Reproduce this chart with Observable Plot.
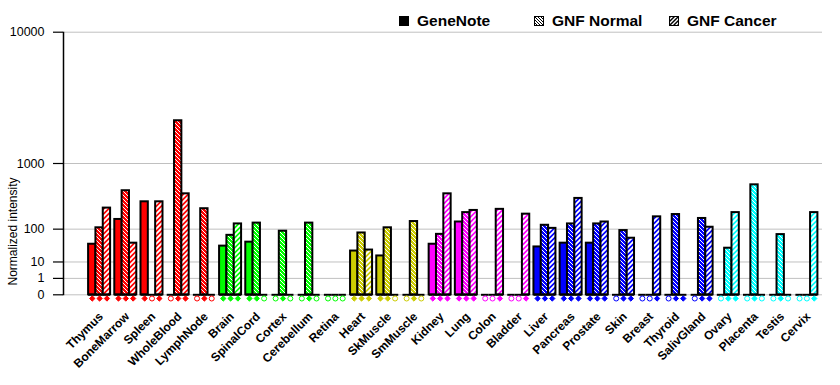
<!DOCTYPE html>
<html>
<head>
<meta charset="utf-8">
<script src="https://cdn.jsdelivr.net/npm/d3@7"></script>
<script src="https://cdn.jsdelivr.net/npm/@observablehq/plot@0.6"></script>
<style>
  body { margin: 0; background: #fff; font-family: Arial, "Liberation Sans", sans-serif; }
  #wrap { position: relative; width: 840px; height: 385px; }
  #wrap svg.chart { position: absolute; left: 0; top: 0; }
  .leg { position: absolute; top: 11px; height: 20px; display: flex; align-items: center;
         font-weight: bold; font-size: 15.5px; color: #000; white-space: nowrap; }
  .leg svg { margin-right: 8px; }
</style>
</head>
<body>
<div id="wrap"></div>
<script>
// ---- data ----
const tissues = ["Thymus","BoneMarrow","Spleen","WholeBlood","LymphNode",
  "Brain","SpinalCord","Cortex","Cerebellum","Retina",
  "Heart","SkMuscle","SmMuscle",
  "Kidney","Lung","Colon","Bladder",
  "Liver","Pancreas","Prostate","Skin","Breast","Thyroid","SalivGland",
  "Ovary","Placenta","Testis","Cervix"];
const tissueGroup = [0,0,0,0,0, 1,1,1,1,1, 2,2,2, 3,3,3,3, 4,4,4,4,4,4,4, 5,5,5,5];
const groupColors = ["#ff0000","#00ff00","#cccc00","#ff00ff","#0000ff","#00ffff"];
const seriesNames = ["GeneNote","GNF Normal","GNF Cancer"];
const geneNote  = [42,158,318,0,0, 37,48,0,0,0, 26,17.5,0, 42,141,0,0, 35,45,45,0,0,0,0, 0,0,0,0];
const gnfNormal = [107,462,0,2550,246, 72,134,90,134,0, 82,107,144, 76,211,0,0, 121,129,129,93,0,195,165, 32,555,75,0];
const gnfCancer = [252,45,318,418,0, 129,0,0,0,0, 28,0,0, 418,230,240,198, 104,358,141,61,177,0,110, 211,0,0,211];
// present (1) / absent (0) calls per series, one string per tissue
const calls = ["111","111","101","011","010", "111","110","010","010","000",
  "111","110","010", "111","111","001","001",
  "111","111","111","011","001","011","011", "011","010","010","001"];
const yTicks = [0, 1, 10, 100, 1000, 10000];

// ---- table ----
const seriesValues = [geneNote, gnfNormal, gnfCancer];
const rows = [];
tissues.forEach((t, i) => {
  const g = tissueGroup[i];
  seriesValues.forEach((vals, j) => {
    rows.push({
      tissue: t, series: seriesNames[j], value: vals[i],
      x1: i - 0.42 + j * 0.28, x2: i - 0.42 + (j + 1) * 0.28, xc: i - 0.28 + j * 0.28,
      color: groupColors[g],
      fill: j === 0 ? groupColors[g] : (j === 1 ? `url(#pn-${g})` : `url(#pc-${g})`),
      call: calls[i][j] === "1"
    });
  });
});

const font = "Arial, 'Liberation Sans', sans-serif";
const chart = Plot.plot({
  width: 840, height: 385,
  marginLeft: 63, marginRight: 18, marginTop: 32, marginBottom: 91,
  style: { fontFamily: font, background: "white", color: "black" },
  x: { type: "linear", domain: [-0.5, 27.5], range: [86, 819.5] },
  y: { type: "pow", exponent: Math.log10(2), domain: [0, 10000], range: [294.3, 31.7] },
  color: { type: "identity" },
  marks: [
    Plot.ruleY(yTicks, { stroke: "#c0c0c0", strokeWidth: 1 }),
    Plot.frame({ anchor: "left", stroke: "black", strokeWidth: 1.5 }),
    Plot.axisY({ ticks: yTicks, tickFormat: d => String(d), tickSize: 10, tickPadding: 9,
      fontSize: 12.5, label: null, stroke: "black", strokeWidth: 1.2 }),
    Plot.axisX({ ticks: d3.range(tissues.length), tickFormat: i => tissues[i], tickRotate: -45,
      tickSize: 0, tickPadding: 20, dx: 1.5, fontSize: 12, fontWeight: "bold", label: null }),
    Plot.text(["Normalized intensity"], { frameAnchor: "left", text: d => d, rotate: -90,
      textAnchor: "middle", dx: -50, dy: 68, fontSize: 12 }),
    Plot.ruleY(rows, { x1: "x1", x2: "x2", y: 0, stroke: "black", strokeWidth: 2 }),
    Plot.rect(rows.filter(d => d.value > 0), { x1: "x1", x2: "x2", y1: 0, y2: "value",
      fill: "fill", stroke: "black", strokeWidth: 2 }),
    Plot.dot(rows.filter(d => d.call), { x: "xc", frameAnchor: "bottom", dy: 4,
      symbol: "diamond2", r: 2.4, fill: "color", stroke: "color", strokeWidth: 1 }),
    Plot.dot(rows.filter(d => !d.call), { x: "xc", frameAnchor: "bottom", dy: 4,
      symbol: "circle", r: 2.5, fill: "white", stroke: "color", strokeWidth: 1 })
  ]
});
chart.setAttribute("class", (chart.getAttribute("class") || "") + " chart");

// hatch patterns
const defs = d3.select(chart).insert("defs", ":first-child");
groupColors.forEach((c, g) => {
  const pn = defs.append("pattern").attr("id", `pn-${g}`).attr("patternUnits", "userSpaceOnUse")
    .attr("width", 4).attr("height", 4);
  pn.append("rect").attr("width", 4).attr("height", 4).attr("fill", c);
  pn.append("path").attr("d", "M-1,-1L5,5M-1,3L1,5M3,-1L5,1").attr("stroke", "white").attr("stroke-width", 1);
  const pc = defs.append("pattern").attr("id", `pc-${g}`).attr("patternUnits", "userSpaceOnUse")
    .attr("width", 5).attr("height", 5);
  pc.append("rect").attr("width", 5).attr("height", 5).attr("fill", c);
  pc.append("path").attr("d", "M-1,6L6,-1M-1,1L1,-1M4,6L6,4").attr("stroke", "white").attr("stroke-width", 1.8);
});

const wrap = document.getElementById("wrap");
wrap.appendChild(chart);

// legend
const legendX = [399, 534, 669];
seriesNames.forEach((name, j) => {
  const div = document.createElement("div");
  div.className = "leg";
  div.style.left = legendX[j] + "px";
  let sw;
  if (j === 0) {
    sw = `<svg width="10" height="10"><rect x="0.5" y="0.5" width="9" height="9" fill="black" stroke="black"/></svg>`;
  } else if (j === 1) {
    sw = `<svg width="10" height="10"><defs><pattern id="lgn" patternUnits="userSpaceOnUse" width="3" height="3">
      <rect width="3" height="3" fill="white"/><path d="M-1,-1L4,4M-1,2L1,4M2,-1L4,1" stroke="black" stroke-width="1"/></pattern></defs>
      <rect x="0.5" y="0.5" width="9" height="9" fill="url(#lgn)" stroke="black"/></svg>`;
  } else {
    sw = `<svg width="10" height="10"><defs><pattern id="lgc" patternUnits="userSpaceOnUse" width="4" height="4">
      <rect width="4" height="4" fill="black"/><path d="M-1,5L5,-1M-1,1L1,-1M3,5L5,3" stroke="white" stroke-width="1.4"/></pattern></defs>
      <rect x="0.5" y="0.5" width="9" height="9" fill="url(#lgc)" stroke="black"/></svg>`;
  }
  div.innerHTML = sw + `<span>${name}</span>`;
  wrap.appendChild(div);
});
</script>
</body>
</html>
